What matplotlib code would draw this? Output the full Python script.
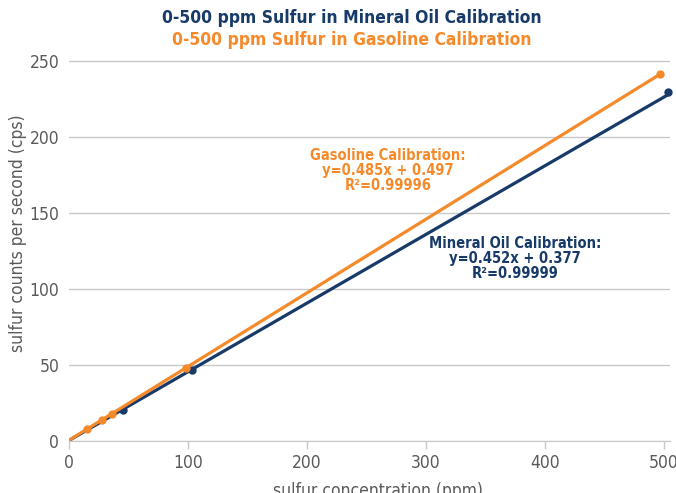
import matplotlib.pyplot as plt
import numpy as np

# calibration standards (ppm, cps)
oil_x = [0, 45, 103, 503]
oil_y = [0.4, 20.7, 46.9, 229.5]
gas_x = [0, 15, 28, 36, 98, 497]
gas_y = [0.5, 7.8, 14.1, 18.0, 48.0, 241.5]

oil_fit = (0.452, 0.377)
gas_fit = (0.485, 0.497)

navy = '#173a68'
orange = '#f58a2b'
grey = '#5a5a5a'

plt.rcParams['font.family'] = ['DejaVu Sans']
plt.rcParams['font.stretch'] = 'condensed'

fig = plt.figure(figsize=(6.76, 4.93), dpi=100)
ax = fig.add_axes([69/676, 52/493, 601/676, 389/493])

xs = np.array([0, max(oil_x)])
ax.plot(xs, oil_fit[0]*xs + oil_fit[1], color=navy, lw=2.3, zorder=3)
ax.plot(oil_x[1:], oil_y[1:], 'o', color=navy, ms=5, zorder=4, clip_on=False)
xg = np.array([0, max(gas_x)])
ax.plot(xg, gas_fit[0]*xg + gas_fit[1], color=orange, lw=2.3, zorder=5)
ax.plot(gas_x[1:], gas_y[1:], 'o', color=orange, ms=5, zorder=6, clip_on=False)

ax.set_xlim(0, 505)
ax.set_ylim(0, 256)
ax.set_xticks([0, 100, 200, 300, 400, 500])
ax.set_yticks([0, 50, 100, 150, 200, 250])
ax.grid(axis='y', color='#c8c8c8', lw=1)
ax.set_axisbelow(True)
for s in ['top', 'right', 'left']:
    ax.spines[s].set_visible(False)
ax.spines['bottom'].set_color('#c8c8c8')
ax.tick_params(axis='x', colors='#c8c8c8', labelcolor=grey, labelsize=12.5, length=6, width=1)
ax.tick_params(axis='y', length=0, labelcolor=grey, labelsize=12.5, pad=7)
ax.set_xlabel('sulfur concentration (ppm)', color=grey, fontsize=12.5)
ax.set_ylabel('sulfur counts per second (cps)', color=grey, fontsize=12.5)
ax.xaxis.set_label_coords(0.514, -0.105)
ax.yaxis.set_label_coords(-0.07, 0.534)

ax.text(268, 178, 'Gasoline Calibration:\ny=0.485x + 0.497\nR²=0.99996', color=orange,
        fontsize=10.5, fontweight='bold', ha='center', va='center', linespacing=1.0)
ax.text(375, 120, 'Mineral Oil Calibration:\ny=0.452x + 0.377\nR²=0.99999', color=navy,
        fontsize=10.5, fontweight='bold', ha='center', va='center', linespacing=1.0)

fig.text(0.52, 1 - 18/493, '0-500 ppm Sulfur in Mineral Oil Calibration', color=navy,
         fontsize=12.5, fontweight='bold', ha='center', va='center')
fig.text(0.52, 1 - 40/493, '0-500 ppm Sulfur in Gasoline Calibration', color=orange,
         fontsize=12.5, fontweight='bold', ha='center', va='center')

fig.savefig('out.png', dpi=100)
